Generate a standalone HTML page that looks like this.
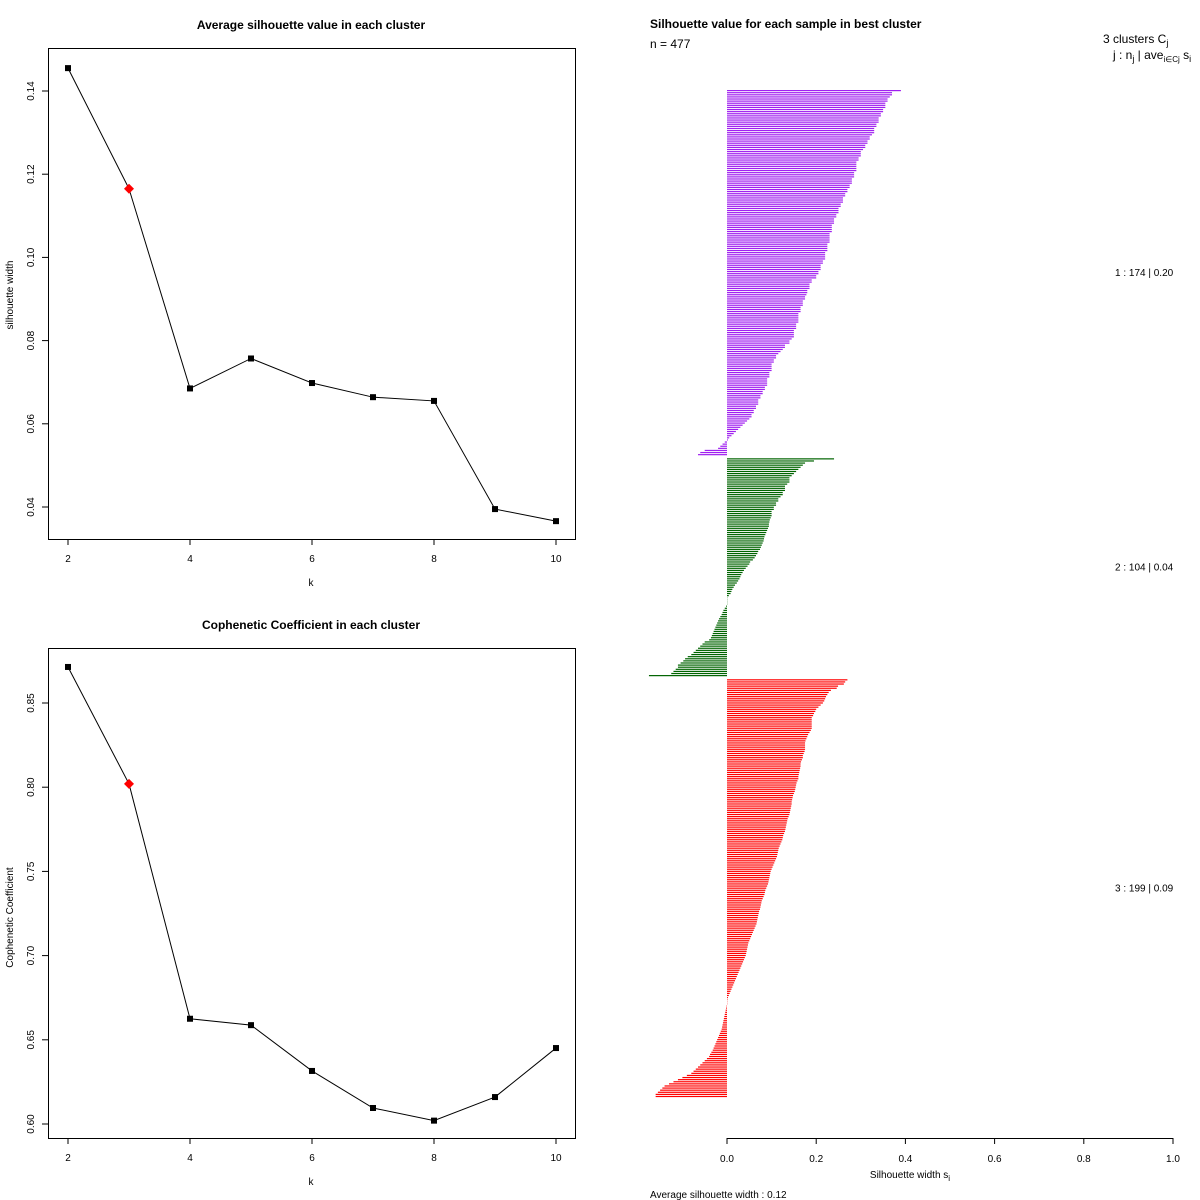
<!DOCTYPE html>
<html><head><meta charset="utf-8"><style>
html,body{margin:0;padding:0;background:#fff;}
svg{display:block;font-family:"Liberation Sans",sans-serif;}
</style></head><body>
<svg id="root" width="1200" height="1200" viewBox="0 0 1200 1200" xmlns="http://www.w3.org/2000/svg">
<g id="p1"></g>
<g id="p2"></g>
<g id="p3"></g>
</svg>
<script>
const kValues = [2,3,4,5,6,7,8,9,10];
const silWidth = [0.1455,0.1165,0.0685,0.0757,0.0698,0.0664,0.0655,0.0395,0.0366];
const silTicks = [0.04,0.06,0.08,0.10,0.12,0.14];
const cophValues = [0.8714,0.8020,0.6625,0.6587,0.6315,0.6095,0.6020,0.6160,0.6451];
const cophTicks = [0.60,0.65,0.70,0.75,0.80,0.85];
const kTicks = [2,4,6,8,10];
const bestK = 3;

const cluster1 = [0.39,0.37,0.37,0.365,0.36,0.36,0.355,0.355,0.355,0.35,
0.35,0.345,0.345,0.34,0.34,0.34,0.335,0.335,0.33,0.33,
0.33,0.325,0.32,0.32,0.315,0.315,0.31,0.31,0.305,0.3,
0.3,0.3,0.295,0.295,0.29,0.29,0.29,0.29,0.29,0.285,
0.285,0.285,0.28,0.28,0.28,0.275,0.275,0.27,0.27,0.265,
0.265,0.26,0.26,0.26,0.255,0.255,0.25,0.25,0.25,0.245,
0.245,0.24,0.24,0.24,0.235,0.235,0.235,0.235,0.23,0.23,
0.23,0.23,0.23,0.225,0.225,0.225,0.225,0.22,0.22,0.22,
0.22,0.215,0.215,0.21,0.21,0.21,0.205,0.205,0.2,0.2,
0.19,0.19,0.185,0.185,0.185,0.18,0.18,0.178,0.175,0.175,
0.17,0.17,0.17,0.165,0.165,0.165,0.16,0.16,0.16,0.16,
0.16,0.155,0.155,0.155,0.15,0.15,0.15,0.15,0.145,0.14,
0.14,0.13,0.13,0.125,0.12,0.115,0.11,0.11,0.105,0.105,
0.1,0.1,0.1,0.1,0.095,0.095,0.095,0.09,0.09,0.09,
0.09,0.085,0.085,0.08,0.08,0.075,0.075,0.07,0.07,0.07,
0.065,0.065,0.06,0.06,0.055,0.055,0.05,0.045,0.04,0.035,
0.03,0.025,0.02,0.015,0.01,0.005,0.002,-0.005,-0.01,-0.015,
-0.02,-0.05,-0.06,-0.065];
const cluster2 = [0.24,0.195,0.175,0.17,0.165,0.16,0.155,0.15,0.145,0.14,
0.14,0.14,0.135,0.13,0.13,0.13,0.125,0.125,0.12,0.115,
0.115,0.11,0.11,0.105,0.105,0.1,0.1,0.1,0.098,0.096,
0.095,0.094,0.094,0.092,0.09,0.088,0.086,0.084,0.083,0.082,
0.08,0.078,0.076,0.074,0.07,0.068,0.065,0.062,0.058,0.052,
0.05,0.046,0.042,0.038,0.035,0.032,0.03,0.028,0.025,0.022,
0.018,0.015,0.012,0.01,0.008,0.004,0,0,0,0,
-0.002,-0.005,-0.008,-0.01,-0.012,-0.015,-0.018,-0.02,-0.022,-0.024,
-0.026,-0.028,-0.03,-0.032,-0.034,-0.036,-0.04,-0.05,-0.055,-0.06,
-0.065,-0.07,-0.075,-0.08,-0.088,-0.094,-0.098,-0.104,-0.11,-0.11,
-0.115,-0.12,-0.125,-0.175];
const cluster3 = [0.27,0.265,0.262,0.249,0.246,0.233,0.228,0.225,0.222,0.22,
0.218,0.215,0.21,0.205,0.2,0.198,0.195,0.193,0.19,0.19,
0.19,0.19,0.19,0.19,0.188,0.185,0.182,0.18,0.178,0.176,
0.175,0.175,0.175,0.175,0.174,0.172,0.17,0.17,0.168,0.166,
0.165,0.165,0.164,0.163,0.162,0.161,0.16,0.16,0.158,0.156,
0.155,0.154,0.153,0.152,0.15,0.148,0.147,0.146,0.145,0.145,
0.144,0.143,0.142,0.141,0.14,0.138,0.136,0.135,0.134,0.133,
0.132,0.131,0.13,0.128,0.126,0.125,0.124,0.122,0.12,0.118,
0.116,0.115,0.114,0.113,0.112,0.11,0.108,0.106,0.104,0.102,
0.1,0.098,0.097,0.096,0.095,0.094,0.093,0.092,0.09,0.088,
0.086,0.085,0.084,0.082,0.08,0.078,0.077,0.076,0.075,0.074,
0.072,0.071,0.07,0.069,0.068,0.067,0.066,0.064,0.062,0.06,
0.058,0.056,0.054,0.052,0.05,0.048,0.047,0.046,0.045,0.044,
0.043,0.042,0.04,0.038,0.036,0.034,0.032,0.03,0.028,0.026,
0.024,0.022,0.02,0.018,0.016,0.014,0.012,0.01,0.008,0.006,
0.004,0.002,0.001,0,0,-0.001,-0.002,-0.003,-0.004,-0.005,
-0.006,-0.007,-0.008,-0.009,-0.01,-0.011,-0.012,-0.014,-0.016,-0.018,
-0.02,-0.022,-0.024,-0.026,-0.028,-0.03,-0.032,-0.035,-0.038,-0.04,
-0.045,-0.05,-0.055,-0.06,-0.065,-0.07,-0.075,-0.08,-0.09,-0.1,
-0.11,-0.12,-0.13,-0.14,-0.145,-0.15,-0.155,-0.16,-0.16];
const clusterColors = ["#a020f0","#006400","#ff0000"];
const clusterLabels = ["1 :  174  |  0.20","2 :  104  |  0.04","3 :  199  |  0.09"];
const silAxisTicks = [0,0.2,0.4,0.6,0.8,1.0];
const silAxisLabels = ["0.0","0.2","0.4","0.6","0.8","1.0"];

const NS="http://www.w3.org/2000/svg";
function mk(parent,tag,attrs,text){const e=document.createElementNS(NS,tag);for(const k in attrs)e.setAttribute(k,attrs[k]);if(text!==undefined)e.textContent=text;parent.appendChild(e);return e;}

function linePanel(g,vals,ticks,top,bottom,yDomTop,yDomBot,title,ytitle,digits){
  const L=48,R=575;
  const x=k=>68+(k-2)*61;
  const y=v=>top+(bottom-top)*(yDomTop-v)/(yDomTop-yDomBot);
  const frame=mk(g,'rect',{x:L+.5,y:(g.id==='p1'?48.5:648.5),width:R-L,height:(g.id==='p1'?491:490),fill:'none',stroke:'#000','stroke-width':1});
  
  
  const fb=(g.id==='p1'?539:1138);
  const t=mk(g,'text',{x:311,y:(g.id==='p1'?29:629),'text-anchor':'middle','font-size':12,'font-weight':'bold'},title);
  
  
  ticks.forEach(v=>{
    const yy=y(v);
    const tl=mk(g,'line',{x1:L-6,x2:L,y1:yy,y2:yy,stroke:'#000'});
    
    
    const tx=mk(g,'text',{x:0,y:0,'font-size':10,'text-anchor':'middle',transform:`translate(${L-14},${yy}) rotate(-90)`},v.toFixed(digits));
    
    
  });
  kTicks.forEach(k=>{
    const tl=mk(g,'line',{x1:x(k),x2:x(k),y1:fb,y2:fb+6,stroke:'#000'});
    
    
    const tx=mk(g,'text',{x:x(k),y:fb+23,'font-size':10,'text-anchor':'middle'},String(k));
    
    
  });
  const xl=mk(g,'text',{x:311,y:fb+47,'font-size':10,'text-anchor':'middle'},'k');
  
  
  const yt=mk(g,'text',{x:0,y:0,'font-size':10,'text-anchor':'middle',transform:`translate(13,${(top+bottom)/2+ (g.id==='p1'?-4:4)}) rotate(-90)`},ytitle);
  
  
  const pts=kValues.map((k,i)=>`${x(k)},${y(vals[i])}`).join(' ');
  const pl=mk(g,'polyline',{points:pts,fill:'none',stroke:'#000','stroke-width':1});
  
  
  kValues.forEach((k,i)=>{
    const cx=x(k),cy=y(vals[i]);
    if(k===bestK){
      const d=mk(g,'polygon',{points:`${cx},${cy-5} ${cx+5},${cy} ${cx},${cy+5} ${cx-5},${cy}`,fill:'#ff0000'});
      
      
    } else {
      const r=mk(g,'rect',{x:cx-3,y:cy-3,width:6,height:6,fill:'#000'});
      
      
    }
  });
}
linePanel(document.getElementById('p1'),silWidth,silTicks,91,507,0.14,0.04,'Average silhouette value in each cluster','silhouette width',2);
linePanel(document.getElementById('p2'),cophValues,cophTicks,703,1124,0.85,0.60,'Cophenetic Coefficient in each cluster','Cophenetic Coefficient',2);

const g3=document.getElementById('p3');
const sx=v=>727+v*446;
const clusters=[cluster1,cluster2,cluster3];
const total=cluster1.length+cluster2.length+cluster3.length+2;
const pitch=(1098-90)/total;
let slot=0;
clusters.forEach((c,ci)=>{
  const startSlot=slot;
  c.forEach(v=>{
    const yy=90+slot*pitch;
    const x0=Math.min(sx(0),sx(v)),w=Math.abs(sx(v)-sx(0));
    const b=mk(g3,'rect',{x:x0,y:yy,width:Math.max(w,0.3),height:1.2,fill:clusterColors[ci]});
    
    
    slot++;
  });
  const mid=90+(startSlot+c.length/2)*pitch;
  const lb=mk(g3,'text',{x:1115,y:mid+3,'font-size':10},clusterLabels[ci]);
  
  
  slot+=1;
});
const ax=mk(g3,'line',{x1:sx(0),x2:sx(1),y1:1138.5,y2:1138.5,stroke:'#000'});


silAxisTicks.forEach((v,i)=>{
  const tl=mk(g3,'line',{x1:sx(v),x2:sx(v),y1:1138,y2:1144,stroke:'#000'});
  
  
  const tx=mk(g3,'text',{x:sx(v),y:1162,'font-size':10,'text-anchor':'middle'},silAxisLabels[i]);
  
  
});
</script>
<svg style="position:absolute;left:0;top:0" width="1200" height="1200">
<text x="650" y="28" font-size="12" font-weight="bold" font-family="Liberation Sans, sans-serif">Silhouette value for each sample in best cluster</text>
<text x="650" y="48" font-size="12" font-family="Liberation Sans, sans-serif">n = 477</text>
<text x="1103" y="43" font-size="12" font-family="Liberation Sans, sans-serif">3  clusters  C<tspan font-size="9" dy="3">j</tspan></text>
<text x="1113" y="59" font-size="12" font-family="Liberation Sans, sans-serif">j :  n<tspan font-size="9" dy="3">j</tspan><tspan dy="-3"> | ave</tspan><tspan font-size="8" dy="3">i∈Cj</tspan><tspan dy="-3">  s</tspan><tspan font-size="9" dy="3">i</tspan></text>
<text x="910" y="1178" font-size="10" text-anchor="middle" font-family="Liberation Sans, sans-serif">Silhouette width s<tspan font-size="8" dy="3">i</tspan></text>
<text x="650" y="1198" font-size="10" font-family="Liberation Sans, sans-serif">Average silhouette width :  0.12</text>
</svg>
</body></html>
